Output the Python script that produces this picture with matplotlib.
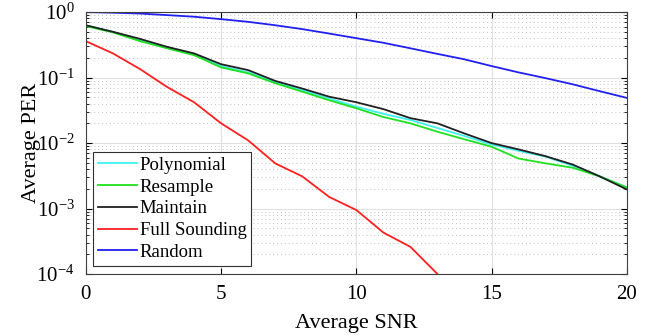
import numpy as np
import matplotlib
matplotlib.use("Agg")
import matplotlib.pyplot as plt

snr = np.arange(0, 21)

per_polynomial = [0.62, 0.50, 0.37, 0.285, 0.225, 0.150, 0.120, 0.085, 0.064, 0.048, 0.036,
                  0.028, 0.0225, 0.017, 0.0128, 0.0095, 0.0076, 0.0062, 0.0045, 0.0031, 0.0021]
per_resample = [0.61, 0.49, 0.36, 0.28, 0.22, 0.143, 0.116, 0.082, 0.061, 0.045, 0.034,
                0.025, 0.020, 0.0149, 0.0114, 0.0088, 0.0058, 0.0049, 0.0042, 0.0031, 0.0021]
per_maintain = [0.63, 0.50, 0.39, 0.295, 0.234, 0.160, 0.130, 0.089, 0.068, 0.051, 0.042,
                0.033, 0.024, 0.020, 0.014, 0.010, 0.0080, 0.0063, 0.0047, 0.0031, 0.00196]
per_full = [0.36, 0.234, 0.135, 0.072, 0.042, 0.020, 0.011, 0.0049, 0.0031, 0.0015, 0.00095,
            0.00043, 0.00026, 0.0001]
per_random = [1.0, 0.98, 0.95, 0.90, 0.85, 0.78, 0.71, 0.63, 0.55, 0.47, 0.40,
              0.34, 0.28, 0.23, 0.19, 0.15, 0.12, 0.098, 0.079, 0.062, 0.049]

labels = ["Polynomial", "Resample", "Maintain", "Full Sounding", "Random"]
colors = ["#40F0F0", "#20E020", "#202020", "#FF2020", "#2020F0"]

plt.rcParams['font.family'] = ['Liberation Serif', 'DejaVu Serif']
plt.rcParams['mathtext.fontset'] = 'stix'

fig = plt.figure(figsize=(6.71, 3.36), dpi=100)
ax = fig.add_axes([0.128, 0.1845, 0.806, 0.7795])

series = [per_polynomial, per_resample, per_maintain, per_full, per_random]
for vals, lab, col in zip(series, labels, colors):
    ax.semilogy(snr[:len(vals)], vals, color=col, lw=1.3, label=lab)

ax.set_xlim(0, 20)
ax.set_ylim(1e-4, 1)
ax.set_xticks([0, 5, 10, 15, 20])
ax.set_yticks([1e-4, 1e-3, 1e-2, 1e-1, 1])
ax.grid(True, which='major', color='#e0e0e0', lw=0.8)
ax.grid(True, which='minor', axis='y', color='#c0c0c0', lw=0.7, ls=(0, (1, 3)))
ax.tick_params(which='both', direction='in', top=True, right=True, labelsize=15)
ax.tick_params(axis='x', pad=8)
ax.tick_params(axis='y', pad=8)
ax.tick_params(which='major', length=4)
ax.tick_params(which='minor', length=2)
for sp in ax.spines.values():
    sp.set_color('#404040')

ax.set_xlabel("Average SNR", fontsize=16, labelpad=7)
ax.set_ylabel("Average PER", fontsize=16, labelpad=-3)

leg = ax.legend(loc='lower left', bbox_to_anchor=(0.013, 0.032), fontsize=13.5,
                fancybox=False, framealpha=1, edgecolor='#303030',
                handlelength=2.1, handletextpad=0.15, labelspacing=0.25,
                borderpad=0.25, borderaxespad=0.0)
leg.get_frame().set_linewidth(0.8)

fig.savefig("out.png", dpi=100)
